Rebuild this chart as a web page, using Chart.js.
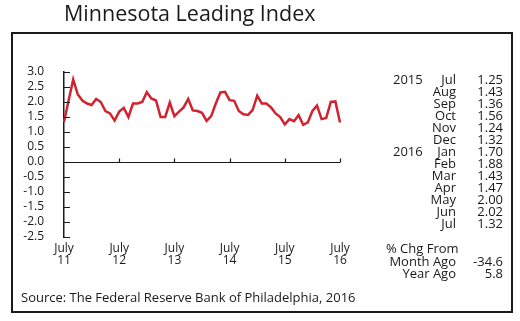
<!DOCTYPE html>
<html>
<head>
<meta charset="utf-8">
<script src="https://cdn.jsdelivr.net/npm/chart.js@4"></script>
<style>
  html, body { margin: 0; padding: 0; background: #fff; }
  canvas { display: block; }
</style>
</head>
<body>
<canvas id="leading" width="520" height="321"></canvas>
<script>
// monthly index, July 2011 - July 2016
var monthNames = ['Jan','Feb','Mar','Apr','May','Jun','Jul','Aug','Sep','Oct','Nov','Dec'];
var startYear = 2011, startMonth = 6;
var indexValues = [
    1.33, 2.05, 2.75, 2.25, 2.05, 1.95,
    1.90, 2.10, 2.00, 1.70, 1.62, 1.38, 1.68, 1.80, 1.50, 1.95, 1.95, 2.00,
    2.33, 2.12, 2.05, 1.50, 1.50, 1.98, 1.53, 1.68, 1.82, 2.10, 1.72, 1.70,
    1.64, 1.37, 1.53, 1.95, 2.32, 2.34, 2.06, 2.04, 1.70, 1.59, 1.57, 1.73,
    2.21, 1.95, 1.95, 1.82, 1.62, 1.50, 1.25, 1.43, 1.36, 1.56, 1.24, 1.32,
    1.70, 1.88, 1.43, 1.47, 2.00, 2.02, 1.32
];
var yTicks = [3.0, 2.5, 2.0, 1.5, 1.0, 0.5, 0.0, -0.5, -1.0, -1.5, -2.0, -2.5];
var chgLabels = ['Month Ago', 'Year Ago'];
var chgValues = ['-34.6', '5.8'];

var categories = [];
for (var i = 0; i < indexValues.length; i++) {
    var m = (startMonth + i) % 12;
    var y = startYear + Math.floor((startMonth + i) / 12);
    categories.push(monthNames[m] + ' ' + y);
}

var FONT = '"Open Sans", sans-serif';
var INK = '#1a1a1a';

// box, title, inner ticks, zero line, side table and source note
var decorations = {
    id: 'decorations',
    afterDraw: function (chart) {
        var c = chart.ctx, area = chart.chartArea;
        var xs = chart.scales.x, ys = chart.scales.y;
        c.save();

        c.fillStyle = INK;
        c.font = '21.5px ' + FONT;
        c.textBaseline = 'middle';
        c.textAlign = 'left';
        c.fillText('Minnesota Leading Index', 64, 15);

        c.strokeStyle = INK;
        c.lineWidth = 2;
        c.strokeRect(12, 33, 500, 279);

        // ticks pointing into the plot from the value axis
        c.lineWidth = 1.2;
        c.beginPath();
        yTicks.forEach(function (v) {
            var py = Math.round(ys.getPixelForValue(v)) + 0.5;
            c.moveTo(area.left, py);
            c.lineTo(area.left + 6, py);
        });
        // zero line with July marks
        var zy = Math.round(ys.getPixelForValue(0)) + 0.5;
        c.moveTo(area.left, zy);
        c.lineTo(area.right, zy);
        for (var i = 12; i < categories.length; i += 12) {
            var px = Math.round(xs.getPixelForValue(i)) + 0.5;
            c.moveTo(px, zy);
            c.lineTo(px, zy - 4);
        }
        c.stroke();

        // last 13 months listed at the right
        c.font = '13px ' + FONT;
        var n = indexValues.length;
        for (var k = 0; k < 13; k++) {
            var idx = n - 13 + k;
            var ry = 80 + k * 12;
            var parts = categories[idx].split(' ');
            if (k === 0 || parts[0] === 'Jan') {
                c.textAlign = 'left';
                c.fillText(parts[1], 393, ry);
            }
            c.textAlign = 'right';
            c.fillText(parts[0], 456, ry);
            c.fillText(indexValues[idx].toFixed(2), 503, ry);
        }

        c.textAlign = 'left';
        c.fillText('% Chg From', 386, 249);
        c.textAlign = 'right';
        chgLabels.forEach(function (lab, j) {
            c.fillText(lab, 456, 262 + j * 12);
            c.fillText(chgValues[j], 503, 262 + j * 12);
        });

        c.textAlign = 'left';
        c.fillText('Source: The Federal Reserve Bank of Philadelphia, 2016', 21, 298);
        c.restore();
    }
};

new Chart(document.getElementById('leading').getContext('2d'), {
    type: 'line',
    data: {
        labels: categories,
        datasets: [{
            data: indexValues,
            borderColor: '#d1232f',
            borderWidth: 2.5,
            pointRadius: 0,
            tension: 0,
            fill: false
        }]
    },
    options: {
        responsive: false,
        animation: false,
        layout: { padding: { left: 20, right: 180, top: 72, bottom: 40 } },
        plugins: {
            legend: { display: false },
            tooltip: { enabled: false }
        },
        scales: {
            x: {
                type: 'category',
                offset: false,
                grid: { display: false },
                border: { display: false },
                afterFit: function (s) { s.height = 44; },
                ticks: {
                    autoSkip: false,
                    maxRotation: 0,
                    padding: -2,
                    color: INK,
                    font: { family: FONT, size: 12, lineHeight: 1.0 },
                    callback: function (v, i) {
                        if (i % 12 !== 0) return null;
                        var yr = startYear + i / 12;
                        return ['July', String(yr).slice(2)];
                    }
                }
            },
            y: {
                min: -2.5,
                max: 3.0,
                grid: { display: false },
                border: { display: true, color: INK, width: 1.5 },
                afterFit: function (s) { s.width = 44; },
                ticks: {
                    stepSize: 0.5,
                    autoSkip: false,
                    padding: 12,
                    color: INK,
                    font: { family: FONT, size: 12 },
                    callback: function (v) { return v.toFixed(1); }
                }
            }
        }
    },
    plugins: [decorations]
});
</script>
</body>
</html>
